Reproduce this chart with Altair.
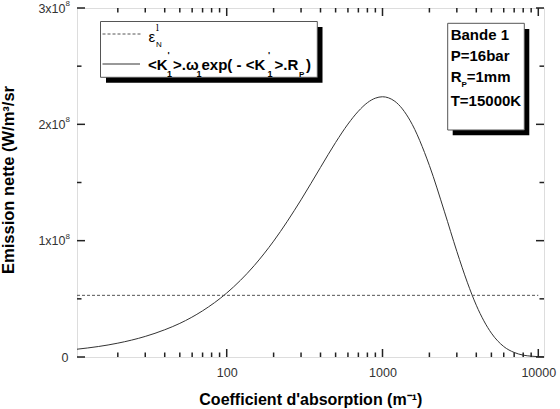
import altair as alt
import pandas as pd

# ---- data ----
K = [10.94, 15, 20, 30, 40, 50, 70, 100, 150, 200, 300, 400, 500, 600, 700, 800,
     900, 1000, 1200, 1500, 2000, 2500, 3000, 3500, 4000, 5000, 6000, 7000, 8000,
     9000, 10000, 10880]
E = [0.067, 0.090, 0.119, 0.177, 0.234, 0.289, 0.397, 0.550, 0.785, 0.996, 1.351,
     1.630, 1.844, 2.002, 2.113, 2.186, 2.225, 2.237, 2.198, 2.035, 1.646, 1.248,
     0.908, 0.643, 0.445, 0.205, 0.090, 0.039, 0.016, 0.007, 0.003, 0.001]
eps_K = [10.94, 10000]
eps_level = 0.53
x_major = [100, 1000, 10000]
x_minor = [20, 30, 40, 50, 60, 70, 80, 90, 200, 300, 400, 500, 600, 700, 800, 900,
           2000, 3000, 4000, 5000, 6000, 7000, 8000, 9000]
y_major = [0, 1e8, 2e8, 3e8]
y_minor = [0.5e8, 1.5e8, 2.5e8]
y_pow = [1e8, 2e8, 3e8]

curve = pd.DataFrame({"K": K, "E": [v * 1e8 for v in E]})
eps = pd.DataFrame({"K": eps_K, "E": [eps_level * 1e8] * len(eps_K)})
one = pd.DataFrame({"k": [0]})

FONT = "Liberation Sans"
W, H = 467, 349
xs = alt.Scale(type="log", domain=[10.94, 10880], nice=False)
ys = alt.Scale(domain=[0, 3e8], nice=False)


def ax(orient, values, **kw):
    d = dict(orient=orient, values=values, grid=False, domain=False, title=None,
             ticks=False, labelFlush=False, labelOverlap=False,
             labelFont=FONT, labelFontSize=12.5, labelColor="#333")
    d.update(kw)
    return alt.Axis(**d)


def hidden(xaxis, yaxis):
    return alt.Chart(curve).mark_line(opacity=0).encode(
        x=alt.X("K:Q", scale=xs, axis=xaxis),
        y=alt.Y("E:Q", scale=ys, axis=yaxis))


def xticks(vals, length, top=False):
    yc = length / 2 if top else H - length / 2
    return alt.Chart(pd.DataFrame({"tx": vals})).mark_tick(
        orient="vertical", size=length, thickness=1.5, color="#222", opacity=1).encode(
        x=alt.X("tx:Q", scale=xs, axis=None), y=alt.value(yc))


def yticks(vals, length, right=False):
    xc = W - length / 2 if right else length / 2
    return alt.Chart(pd.DataFrame({"ty": vals})).mark_tick(
        orient="horizontal", size=length, thickness=1.5, color="#222", opacity=1).encode(
        y=alt.Y("ty:Q", scale=ys, axis=None), x=alt.value(xc))


def rect(x, x2, y, y2, **kw):
    return alt.Chart(one).mark_rect(**kw).encode(
        x=alt.value(x), x2=alt.value(x2), y=alt.value(y), y2=alt.value(y2))


def rule(x, x2, y, **kw):
    return alt.Chart(one).mark_rule(**kw).encode(
        x=alt.value(x), x2=alt.value(x2), y=alt.value(y))


def txt(s, x, y, size=15, weight="bold", font=FONT, align="left", **kw):
    return alt.Chart(one).mark_text(align=align, baseline="alphabetic", fontSize=size,
                                    fontWeight=weight, font=font, color="#000", **kw).encode(
        x=alt.value(x), y=alt.value(y), text=alt.value(s))


line = alt.Chart(curve).mark_line(color="#333", strokeWidth=1, interpolate="monotone").encode(
    x=alt.X("K:Q", scale=xs, axis=None), y=alt.Y("E:Q", scale=ys, axis=None))
dashed = alt.Chart(eps).mark_line(color="#555", strokeWidth=1, strokeDash=[3, 2]).encode(
    x=alt.X("K:Q", scale=xs, axis=None), y=alt.Y("E:Q", scale=ys, axis=None))

pow8 = alt.Chart(pd.DataFrame({"E": y_pow})).mark_text(
    align="left", baseline="middle", fontSize=8, dy=-4, color="#333", font=FONT).encode(
    x=alt.value(-11.5), y=alt.Y("E:Q", scale=ys, axis=None), text=alt.value("8"))

layers = [
    line, dashed,
    hidden(ax("bottom", x_major, labelPadding=9, format="d"),
           ax("left", y_pow, labelPadding=12,
              labelExpr="format(datum.value/1e8, 'd') + 'x10'")),
    hidden(None, ax("left", [0], labelPadding=9)),
    xticks(x_major, 8), xticks(x_minor, 4.5),
    xticks(x_major, 8, top=True), xticks(x_minor, 4.5, top=True),
    yticks(y_major, 8), yticks(y_minor, 4.5),
    yticks(y_major, 8, right=True), yticks(y_minor, 4.5, right=True),
    pow8,
    # legend box
    rect(29, 245.5, 19, 74.7, color="#000"),
    rect(23.5, 240.3, 13.5, 69.3, fill="#fff", stroke="#555", strokeWidth=1),
    rule(25.5, 64.5, 26, color="#555", strokeWidth=1, strokeDash=[3, 2]),
    rule(25.5, 63, 56, color="#333", strokeWidth=1),
    txt("ε", 71.5, 34, size=15, weight="normal"),
    txt("l", 79, 23, size=9, weight="normal", font="DejaVu Serif"),
    txt("N", 79, 39, size=8, weight="normal"),
    txt("<K", 71, 61.5),
    txt("'", 90.5, 50, size=9),
    txt("1", 90, 69, size=9),
    txt(">.ω", 96, 61.5),
    txt("1", 119.5, 69, size=9),
    txt("exp( - <K", 124.5, 61.5),
    txt("'", 191, 50, size=9),
    txt("1", 190.5, 69, size=9),
    txt(">.R", 197.5, 61.5),
    txt("P", 222, 69, size=8),
    txt(")", 229, 61.5),
    # info box
    rect(375.7, 452.3, 21, 127.3, color="#000"),
    rect(370.7, 447.3, 15.3, 122, fill="#fff", stroke="#555", strokeWidth=1),
    txt("Bande 1", 373.7, 31.5),
    txt("P=16bar", 373.7, 53),
    txt("R", 373.7, 73.7),
    txt("P", 384.5, 78.5, size=8),
    txt("=1mm", 389.7, 73.7),
    txt("T=15000K", 373.7, 98),
    # axis titles
    txt("Coefficient d'absorption (m⁻¹)", 233.8, 397, size=16, align="center"),
    alt.Chart(one).mark_text(align="center", baseline="middle", fontSize=16.5, fontWeight="bold",
                             font=FONT, angle=270, color="#000").encode(
        x=alt.value(-68), y=alt.value(172), text=alt.value("Emission nette (W/m³/sr")),
]

chart = alt.layer(*layers).resolve_axis(x="independent", y="independent").properties(
    width=W, height=H,
    autosize=alt.AutoSizeParams(type="none"),
    padding={"left": 77, "top": 8, "right": 16, "bottom": 52},
).configure_view(stroke="#222", strokeWidth=1.5).configure(background="#fff")

chart.save("out.html", embed_options={"renderer": "svg", "actions": False})
